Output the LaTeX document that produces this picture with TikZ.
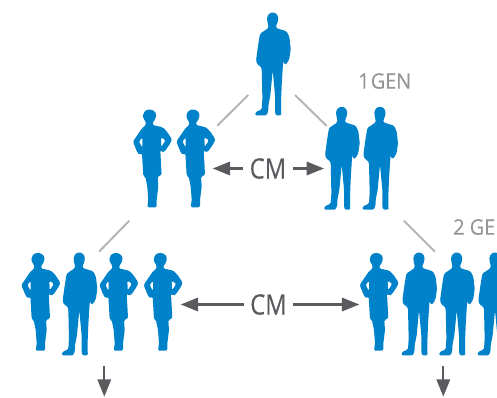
\documentclass[tikz,border=0pt]{standalone}
\usepackage{fontspec}
\setmainfont{Open Sans}
\usetikzlibrary{arrows.meta}
\definecolor{figblue}{HTML}{0082CA}
\definecolor{arrowgray}{HTML}{5A5B5E}
\definecolor{linkgray}{HTML}{B5B5B5}
\definecolor{gentext}{HTML}{949598}
\tikzset{
  man/.pic={\fill[figblue,scale=0.3333,rounded corners=1pt]
    (10,38)--(10,46)--(42,56)--(50,73)--(54,108)--(50,138)--(42,153)--(35,156)--(32,143)--(30,168)--(27,218)--(25,268)--(25,296)--(26,308)--(9,308)--(7,296)--(7,248)--(0,173)--(-7,248)--(-13,278)--(-13,293)--(-18,308)--(-53,308)--(-51,298)--(-33,290)--(-31,258)--(-33,168)--(-37,160)--(-46,156)--(-50,143)--(-43,93)--(-38,63)--(-13,46)--(-13,38)--(-16,28)--(-17,12)--(-8,0)--(8,0)--(17,12)--(15,30)--cycle;},
  woman/.pic={\fill[figblue,even odd rule,scale=0.3333,rounded corners=1pt]
    (10,40)--(10,47)--(40,54)--(53,67)--(68,90)--(63,102)--(46,127)--(36,128)--(33,122)--(37,197)--(25,202)--(27,232)--(22,272)--(22,294)--(-6,294)--(-3,272)--(-6,232)--(-12,202)--(-18,200)--(-22,132)--(-30,137)--(-37,127)--(-49,97)--(-22,57)--(-10,47)--(-10,40)--(-20,22)--(-14,5)--(0,0)--(14,4)--(21,14)--(18,30)--cycle
    (35,84)--(49,93)--(36,113)--cycle
    (-31,97)--(-21,84)--(-21,115)--cycle;},
  link/.style={draw=linkgray,line width=1.5pt},
  flow/.style={draw=arrowgray,line width=1.7pt,-{Triangle[length=13pt,width=10pt]}},
  cmlabel/.style={text=arrowgray,font=\fontsize{21}{21}\selectfont\addfontfeature{FakeBold=0.4},inner sep=0pt,xscale=0.85},
  genlabel/.style={text=gentext,font=\fontsize{16}{16}\selectfont\addfontfeature{FakeBold=0.3},inner sep=0pt,anchor=west,xscale=0.93}
}
\begin{document}
\begin{tikzpicture}[x=0.75pt,y=-0.75pt]
\useasboundingbox (0,0) rectangle (497,397);
\clip (0,0) rectangle (497,397);
% figures
\pic at (272.7,12.7) {man};
\pic at (149.3,109.3) {woman};
\pic at (192.7,109.3) {woman};
\pic at (341.7,107) {man};
\pic at (380,107) {man};
\pic at (37.7,252.7) {woman};
\pic at (79.3,252.7) {man};
\pic at (115.7,252.7) {woman};
\pic at (160,252.7) {woman};
\pic at (376,252.7) {woman};
\pic at (419,252.7) {man};
\pic at (456.7,252.7) {man};
\pic at (495,252.7) {man};
% labels
\node[cmlabel] (cmtop) at (268,168.5) {CM};
\node[cmlabel] (cmbot) at (268.5,304.5) {CM};
\node[genlabel] (genone) at (358,81) {1\hspace{0.06em}GEN};
\node[genlabel] (gentwo) at (453,227) {2 GEN};
% connector ends
\coordinate (la) at (248.3,95);  \coordinate (lb) at (217.3,125.7);
\coordinate (ra) at (295,95);    \coordinate (rb) at (326.7,126);
\coordinate (lc) at (129.3,220.7); \coordinate (ld) at (99,251.7);
\coordinate (rc) at (404,220.7);   \coordinate (rd) at (435,251.7);
\coordinate (atl) at (212.7,168.5); \coordinate (atr) at (324,168.5);
\coordinate (abl) at (180.7,304.5); \coordinate (abr) at (359.3,304.5);
\coordinate (dla) at (104.3,366); \coordinate (dlb) at (104.3,396.7);
\coordinate (dra) at (443.3,366); \coordinate (drb) at (443.3,396.7);
\path[link] (la) -- (lb);
\path[link] (ra) -- (rb);
\path[link] (lc) -- (ld);
\path[link] (rc) -- (rd);
\path[flow] (cmtop.west) ++(-7,0) -- (atl);
\path[flow] (cmtop.east) ++(7,0) -- (atr);
\path[flow] (cmbot.west) ++(-6,0) -- (abl);
\path[flow] (cmbot.east) ++(6,0) -- (abr);
\path[flow] (dla) -- (dlb);
\path[flow] (dra) -- (drb);
\end{tikzpicture}
\end{document}
